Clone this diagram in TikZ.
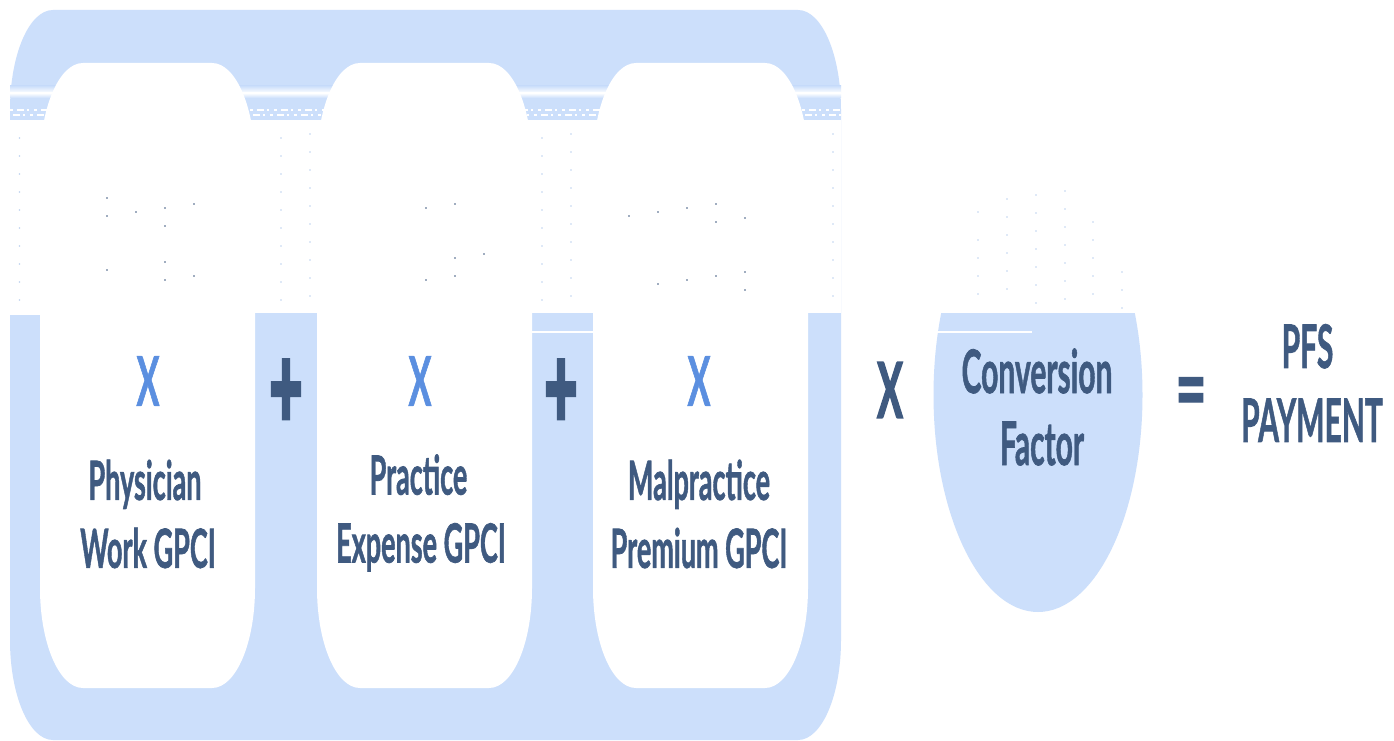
\documentclass[tikz,border=0pt]{standalone}
\usepackage{fontspec}
\setmainfont[BoldFeatures={FakeBold=1.4}]{Lato}
\newfontfamily\heavyfont[FakeBold=8]{Lato}
\newfontfamily\thickfont[BoldFeatures={FakeBold=3}]{Lato}
\usetikzlibrary{calc}
\definecolor{panelblue}{HTML}{CCDFFB}
\definecolor{inkblue}{HTML}{3F5A80}
\definecolor{brightblue}{HTML}{5B8FE0}
\definecolor{speck}{HTML}{BFD3F0}
\newcommand{\softrect}[4]{% x0 y0 x1 y1
  (#1+43,#2) -- (#3-43,#2) .. controls (#3-19,#2) and (#3,#2+45) .. (#3,#2+100)
  -- (#3,#4-100) .. controls (#3,#4-45) and (#3-19,#4) .. (#3-43,#4)
  -- (#1+43,#4) .. controls (#1+19,#4) and (#1,#4-45) .. (#1,#4-100)
  -- (#1,#2+100) .. controls (#1,#2+45) and (#1+19,#2) .. (#1+43,#2) -- cycle}
\tikzset{
  x=1pt,y=-1pt,
  stretched/.style={inner sep=0pt,outer sep=0pt,align=center,yscale=2,transform shape,text=inkblue},
  cardtext/.style={stretched,font=\fontsize{27}{34}\selectfont\bfseries},
  symb/.style={stretched,font=\fontsize{38}{38}\selectfont\thickfont\bfseries},
  eqsign/.style={stretched,yscale=0.85,font=\fontsize{54}{54}\selectfont\bfseries},
  bluex/.style={stretched,text=brightblue,font=\fontsize{34}{34}\selectfont\bfseries},
  plussign/.style={stretched,font=\fontsize{54}{54}\selectfont\heavyfont},
  bigtext/.style={stretched,font=\fontsize{30}{37}\selectfont\bfseries},
  lightdot/.style={fill=speck,draw=none},
  darkdot/.style={fill=inkblue,draw=none},
  noise/.style={draw=white,line width=1.2pt,dash pattern=on 3pt off 4pt on 7pt off 3pt on 2pt off 5pt}
}
\begin{document}
\begin{tikzpicture}
\useasboundingbox (0,0) rectangle (1394,741);
\fill[white] (0,0) rectangle (1394,741);
% panel
\fill[panelblue] \softrect{10}{10}{841}{740};
% band artefacts
\shade[top color=panelblue,bottom color=white,draw=none] (10,86) rectangle (841,93);
\shade[top color=white,bottom color=panelblue,draw=none] (10,93) rectangle (841,98);
\draw[noise] (10,110) -- (841,110);
\draw[noise,dash phase=4pt] (10,115) -- (841,115);
\fill[white] (0,120) rectangle (841,313);
\fill[white] (10,313) rectangle (40,315);
% cards
\fill[white] \softrect{40}{63}{255}{688};
\fill[white] \softrect{317}{63}{532}{688};
\fill[white] \softrect{593}{63}{808}{688};
\fill[white] (532,331) rectangle (593,333);
% conversion factor shape
\begin{scope}
\clip (900,313) rectangle (1200,620);
\fill[panelblue] (1038,395) ellipse [x radius=104.5,y radius=217];
\end{scope}
\fill[white] (935,331) rectangle (1032,333);
% specks
\foreach \cx in {19.5,281,542}{\foreach \k in {0,...,9}{\fill[lightdot] (\cx,138+18*\k) circle (0.9);}}
\foreach \cx in {310,571,833}{\foreach \k in {0,...,9}{\fill[lightdot] (\cx,134+18*\k) circle (0.9);}}
\foreach \cx/\cy in {978/212,1007/199,1036/195,1065/191,1007/217,1036/213,1065/209,1093/222,978/240,1007/235,1036/231,1065/227,1093/240,978/258,1007/253,1036/249,1065/245,1093/258,1122/272,978/276,1007/271,1036/267,1065/263,1093/276,1122/290,978/294,1007/289,1036/285,1065/281,1093/294,1122/308,1036/303,1065/299}
  {\fill[lightdot] (\cx,\cy) circle (0.8);}
\foreach \cx/\cy in {107/198,107/216,136/212,165/208,165/226,194/204,107/270,165/262,165/280,194/276,426/208,455/204,455/258,455/276,484/254,426/280,629/216,658/212,687/208,716/204,716/222,745/218,658/284,687/280,716/276,745/272,745/290}
  {\fill[darkdot] (\cx,\cy) circle (0.9);}
% text
\node[bluex] (x1) at (148,381) {X};
\node[bluex] (x2) at (420,381) {X};
\node[bluex] (x3) at (699,381) {X};
\node[plussign] (p1) at (286,394) {+};
\node[plussign] (p2) at (561,394) {+};
\node[symb] (times) at (890,390) {X};
\node[cardtext] (work) at (148,514) {Physician\hspace*{6pt}\\Work GPCI};
\node[cardtext] (prac) at (421,513) {Practice\hspace*{5pt}\\Expense GPCI};
\node[cardtext] (malp) at (699,514) {Malpractice\\Premium GPCI};
\node[cardtext,font=\fontsize{30}{36}\selectfont\bfseries] (conv) at (1037,407) {Conversion\\\hspace*{10pt}Factor};
\node[eqsign] (eq) at (1191,399) {=};
\node[bigtext] (pfs) at (1312,383) {PFS\hspace*{9pt}\\PAYMENT};
\end{tikzpicture}
\end{document}
